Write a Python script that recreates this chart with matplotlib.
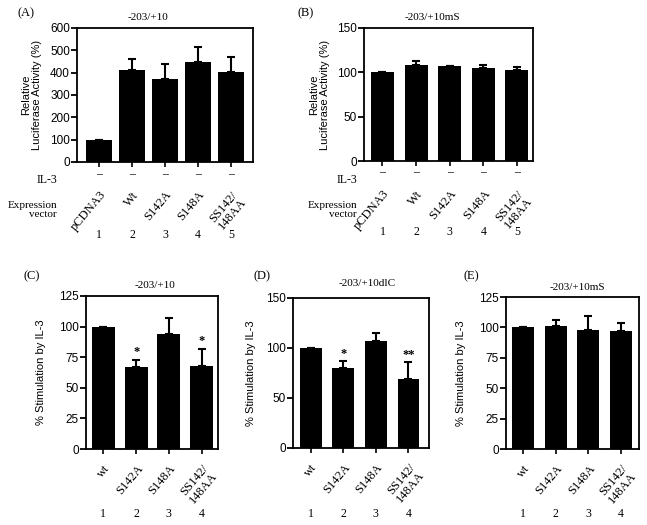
import matplotlib
matplotlib.use("Agg")
import matplotlib.pyplot as plt
import numpy as np
from matplotlib.transforms import blended_transform_factory, ScaledTranslation

SERIF = "Liberation Serif"
SANS = "Liberation Sans"

# ---- data ----
labels_ab = ["pCDNA3", "Wt", "S142A", "S148A", "SS142/\n148AA"]
lanes_ab = ["1", "2", "3", "4", "5"]
a_vals = [100, 410, 372, 448, 403]
a_err = [0, 52, 68, 68, 68]
b_vals = [100, 108.5, 107.5, 104.5, 102.5]
b_err = [0, 4.5, 0, 3.5, 3.5]

labels_cde = ["wt", "S142A", "S148A", "SS142/\n148AA"]
lanes_cde = ["1", "2", "3", "4"]
c_vals = [100, 67, 94, 68]
c_err = [0, 6, 13, 14]
c_sig = ["", "*", "", "*"]
d_vals = [100, 80, 107, 69]
d_err = [0, 7, 8, 17]
d_sig = ["", "*", "", "**"]
e_vals = [100, 101, 98, 97]
e_err = [0, 5, 11, 7]
e_sig = ["", "", "", ""]

W, H = 647, 525
fig = plt.figure(figsize=(W / 100, H / 100), dpi=100)
fig.patch.set_facecolor("white")


def px_axes(l, t, r, b):
    return fig.add_axes([l / W, 1 - b / H, (r - l) / W, (b - t) / H])


def panel(ax, vals, err, labels, ylim, yticks, xlim, width, ylabel, sig=None,
          label_pad=14):
    x = np.arange(len(vals))
    ax.bar(x, vals, width=width, color="black", zorder=2)
    ax.errorbar(x, vals, yerr=[np.zeros(len(err)), err], fmt="none",
                ecolor="black", elinewidth=1.5, capsize=3, capthick=1.5, zorder=3)
    ax.set_xlim(*xlim)
    ax.set_ylim(*ylim)
    ax.set_yticks(yticks)
    for s in ax.spines.values():
        s.set_linewidth(1.3)
    ax.tick_params(axis="y", direction="out", length=4, width=1.3, pad=1,
                   labelsize=8.5)
    for lab in ax.get_yticklabels():
        lab.set_family(SANS)
    ax.set_xticks(x)
    ax.set_xticklabels(labels, rotation=50, ha="right", rotation_mode="anchor",
                       family=SERIF, fontsize=9, linespacing=0.95)
    off = ScaledTranslation(6 / 72, 0, fig.dpi_scale_trans)
    for lab in ax.get_xticklabels():
        lab.set_transform(lab.get_transform() + off)
    ax.tick_params(axis="x", direction="out", length=3.5, width=1.2,
                   pad=label_pad)
    ax.set_ylabel(ylabel, family=SANS, fontsize=8, linespacing=1.1)
    if sig:
        for xi, v, e, s in zip(x, vals, err, sig):
            if s:
                ax.annotate(s, (xi, v + e), xytext=(0, 1), textcoords="offset points",
                            ha="center", va="bottom", family=SERIF, fontsize=9,
                            fontweight="bold")
    return x


# Panel A
axA = px_axes(77, 28, 253, 162)
xA = panel(axA, a_vals, a_err, labels_ab, (0, 600), [0, 100, 200, 300, 400, 500, 600],
           (-0.67, 4.67), 0.8, "Relative\nLuciferase Activity (%)", label_pad=16)
axA.yaxis.set_label_coords(-0.2, 0.5)

# Panel B
axB = px_axes(364, 28, 533, 161)
xB = panel(axB, b_vals, b_err, labels_ab, (0, 150), [0, 50, 100, 150],
           (-0.55, 4.48), 0.68, "Relative\nLuciferase Activity (%)", label_pad=16)
axB.yaxis.set_label_coords(-0.2, 0.5)

# Panel C
axC = px_axes(86, 296, 218, 449)
xC = panel(axC, c_vals, c_err, labels_cde, (0, 125), [0, 25, 50, 75, 100, 125],
           (-0.53, 3.5), 0.7, "% Stimulation by IL-3", sig=c_sig, label_pad=6)
axC.yaxis.set_label_coords(-0.3, 0.5)

# Panel D
axD = px_axes(293, 298, 429, 448)
xD = panel(axD, d_vals, d_err, labels_cde, (0, 150), [0, 50, 100, 150],
           (-0.54, 3.63), 0.67, "% Stimulation by IL-3", sig=d_sig, label_pad=6)
axD.yaxis.set_label_coords(-0.27, 0.5)

# Panel E
axE = px_axes(506, 297, 639, 449)
xE = panel(axE, e_vals, e_err, labels_cde, (0, 125), [0, 25, 50, 75, 100, 125],
           (-0.52, 3.55), 0.68, "% Stimulation by IL-3", sig=e_sig, label_pad=6)
axE.yaxis.set_label_coords(-0.3, 0.5)


def row_text(ax, x, texts, ypx, **kw):
    tr = blended_transform_factory(ax.transData, fig.transFigure)
    for xi, t in zip(x, texts):
        ax.text(xi, 1 - ypx / H, t, transform=tr, ha="center", va="center",
                family=SERIF, fontsize=8.5, **kw)


# IL-3 dashes and lane numbers for A/B
for ax, x, ydash, ynum in [(axA, xA, 174, 235), (axB, xB, 172, 232)]:
    row_text(ax, x, ["\u2013"] * len(x), ydash)
    row_text(ax, x, lanes_ab, ynum)

for ax, x in [(axC, xC), (axD, xD), (axE, xE)]:
    row_text(ax, x, lanes_cde, 514)

# row labels
fig.text(57 / W, 1 - 180 / H, "IL-3", ha="right", va="center", family=SERIF, fontsize=8.5)
fig.text(57 / W, 1 - 210 / H, "Expression\nvector", ha="right", va="center",
         family=SERIF, fontsize=8, multialignment="right", linespacing=1.1)
fig.text(357 / W, 1 - 180 / H, "IL-3", ha="right", va="center", family=SERIF, fontsize=8.5)
fig.text(357 / W, 1 - 210 / H, "Expression\nvector", ha="right", va="center",
         family=SERIF, fontsize=8, multialignment="right", linespacing=1.1)

# panel letters
for lbl, xp, yp in [("(A)", 17, 13), ("(B)", 297, 13), ("(C)", 23, 276),
                    ("(D)", 253, 276), ("(E)", 463, 276)]:
    fig.text(xp / W, 1 - yp / H, lbl, ha="left", va="center", family=SERIF, fontsize=9)

# titles
for t, xp, yp in [("-203/+10", 148, 18), ("-203/+10mS", 432, 18),
                  ("-203/+10", 155, 286), ("-203/+10dlC", 367, 283),
                  ("-203/+10mS", 577, 287)]:
    fig.text(xp / W, 1 - yp / H, t, ha="center", va="center", family=SERIF, fontsize=8)

fig.savefig("out.png", dpi=100, facecolor="white")
